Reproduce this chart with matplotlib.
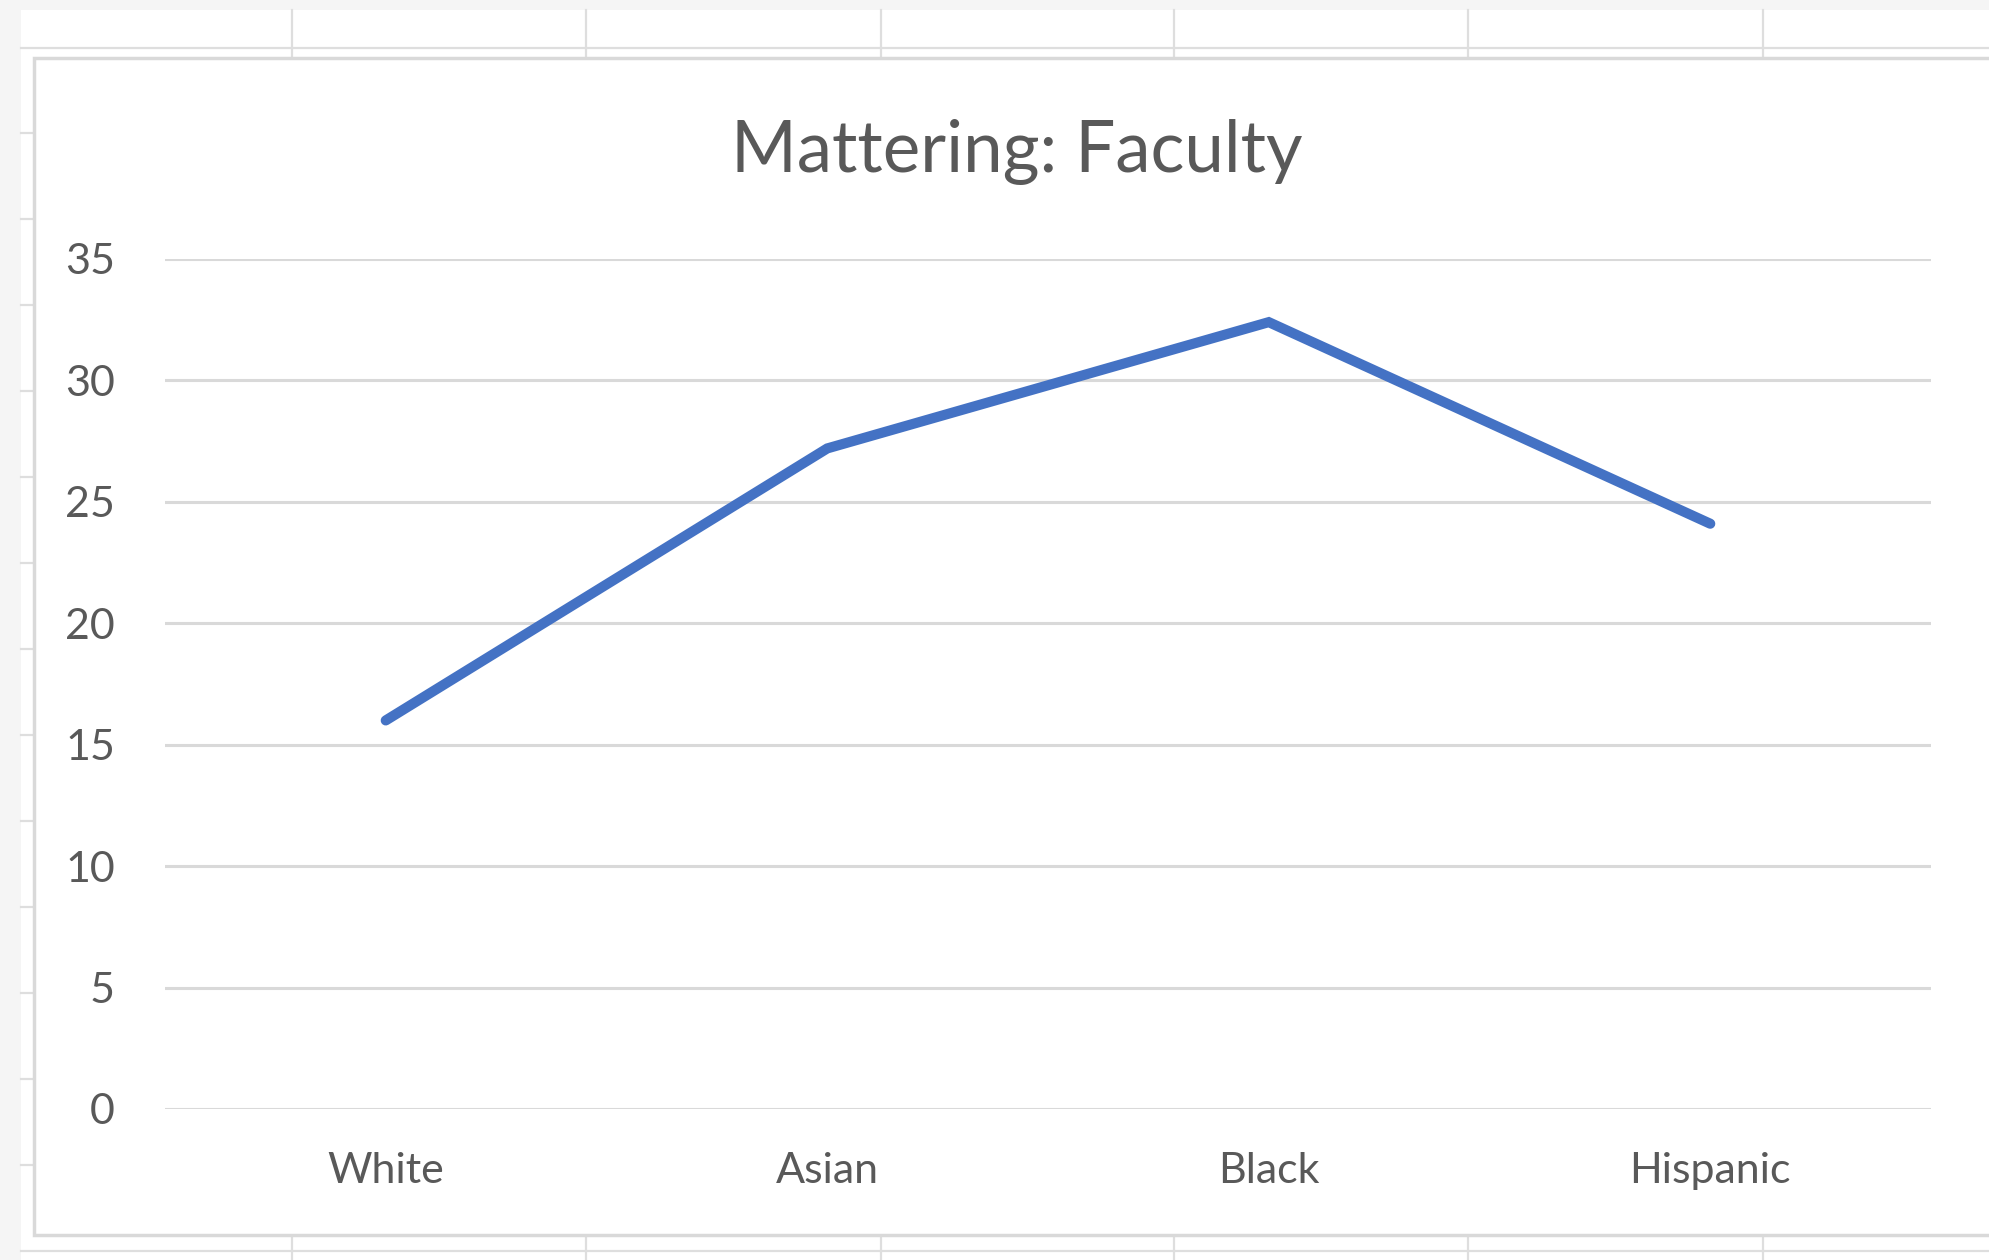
import matplotlib
matplotlib.use("Agg")
import matplotlib.pyplot as plt
from matplotlib.patches import Rectangle

# data
groups = ["White", "Asian", "Black", "Hispanic"]
mattering = [16.0, 27.2, 32.4, 24.1]
yticks = [0, 5, 10, 15, 20, 25, 30, 35]
title = "Mattering: Faculty"

plt.rcParams['font.family'] = ['Lato', 'DejaVu Sans']
W, H = 1990, 1260
text_col = '#595959'
grid_col = '#d9d9d9'

fig = plt.figure(figsize=(W / 100, H / 100), dpi=100)
fig.patch.set_facecolor('white')

# spreadsheet background, drawn in pixel coordinates
bg = fig.add_axes([0, 0, 1, 1], zorder=0)
bg.set_xlim(0, W)
bg.set_ylim(H, 0)
bg.axis('off')
bg.add_patch(Rectangle((0, 0), W, 10, color='#f5f5f5', lw=0))
bg.add_patch(Rectangle((0, 0), 21, H, color='#f5f5f5', lw=0))
for y in [48] + [133 + 86 * k for k in range(14)]:
    bg.plot([21, W], [y, y], color='#dedede', lw=1.6)
for x in [292, 586, 881, 1174, 1468, 1763]:
    bg.plot([x, x], [10, H], color='#dedede', lw=1.6)
# chart area with border
bg.add_patch(Rectangle((34, 58), W, 1177, facecolor='white',
                       edgecolor='#d9d9d9', lw=2.5, zorder=3))

# plot area
ax = fig.add_axes([165 / W, (H - 1109) / H, (1931 - 165) / W, 850 / H], zorder=2)
ax.patch.set_alpha(0)
ax.plot(range(len(groups)), mattering, color='#4472C4', lw=7.3,
        solid_capstyle='round', solid_joinstyle='miter', zorder=3)
ax.set_xlim(-0.5, len(groups) - 0.5)
ax.set_ylim(0, 35)
ax.set_yticks(yticks)
ax.set_xticks(range(len(groups)))
ax.set_xticklabels(groups)
ax.yaxis.grid(True, color=grid_col, lw=2.2)
ax.set_axisbelow(True)
for s in ax.spines.values():
    s.set_visible(False)
ax.tick_params(axis='y', length=0, pad=36, labelsize=31, labelcolor=text_col)
ax.tick_params(axis='x', length=0, pad=31, labelsize=31, labelcolor=text_col)

fig.text(1017 / W, 1 - 172 / H, title, ha='center', va='baseline',
         fontsize=51, color=text_col)

fig.savefig('out.png', dpi=100)
